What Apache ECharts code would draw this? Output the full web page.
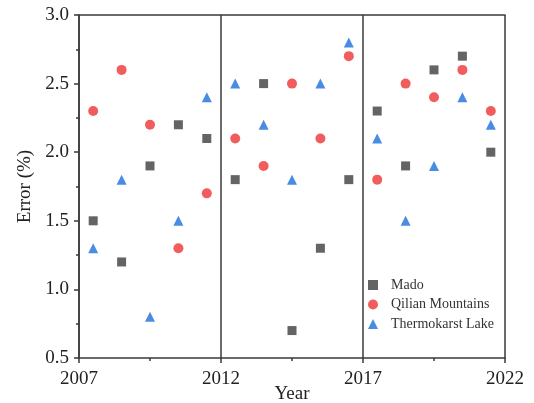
<!DOCTYPE html>
<html>
<head>
<meta charset="utf-8">
<script src="https://cdn.jsdelivr.net/npm/echarts@6/dist/echarts.min.js"></script>
<style>html,body{margin:0;padding:0;background:#fff;}#c{width:534px;height:403px;}</style>
</head>
<body>
<div id="c"></div>
<script>
const years = [2007.5, 2008.5, 2009.5, 2010.5, 2011.5, 2012.5, 2013.5, 2014.5, 2015.5, 2016.5, 2017.5, 2018.5, 2019.5, 2020.5, 2021.5];
const mado = [1.5, 1.2, 1.9, 2.2, 2.1, 1.8, 2.5, 0.7, 1.3, 1.8, 2.3, 1.9, 2.6, 2.7, 2.0];
const qilian = [2.3, 2.6, 2.2, 1.3, 1.7, 2.1, 1.9, 2.5, 2.1, 2.7, 1.8, 2.5, 2.4, 2.6, 2.3];
const thermokarst = [1.3, 1.8, 0.8, 1.5, 2.4, 2.5, 2.2, 1.8, 2.5, 2.8, 2.1, 1.5, 1.9, 2.4, 2.2];
const seriesNames = ['Mado', 'Qilian Mountains', 'Thermokarst Lake'];

const font = 'Liberation Serif';
const axisCol = '#3a3a3a';
const pair = arr => years.map((y, i) => [y, arr[i]]);

const chart = echarts.init(document.getElementById('c'));
chart.setOption({
  animation: false,
  grid: {left: 79, right: 29, top: 15, bottom: 45, containLabel: false, outerBoundsMode: 'none'},
  legend: {
    orient: 'vertical', left: 363, top: 273,
    itemWidth: 10, itemHeight: 10, itemGap: 5.5,
    textStyle: {fontFamily: font, fontSize: 14, color: '#333', padding: [0, 0, 0, 8]},
    data: seriesNames
  },
  xAxis: [{
    type: 'value', min: 2007, max: 2022, interval: 5,
    name: 'Year', nameLocation: 'middle', nameGap: 27, nameMoveOverlap: false,
    nameTextStyle: {fontFamily: font, fontSize: 19, color: '#222'},
    axisLine: {show: true, lineStyle: {color: axisCol, width: 1.5}},
    axisTick: {show: true, length: 5, lineStyle: {color: axisCol, width: 1.5}},
    minorTick: {show: true, splitNumber: 2, length: 3, lineStyle: {color: axisCol, width: 1.5}},
    axisLabel: {fontFamily: font, fontSize: 19, color: '#222', margin: 12, formatter: v => String(v)},
    splitLine: {show: true, lineStyle: {color: axisCol, width: 1.5}}
  }, {
    type: 'value', position: 'top', min: 2007, max: 2022,
    axisLine: {show: true, lineStyle: {color: axisCol, width: 1.5}},
    axisTick: {show: false}, axisLabel: {show: false}, splitLine: {show: false}
  }],
  yAxis: {
    type: 'value', min: 0.5, max: 3.0, interval: 0.5,
    name: 'Error (%)', nameLocation: 'middle', nameGap: 44,
    nameTextStyle: {fontFamily: font, fontSize: 19, color: '#222'},
    axisLine: {show: true, lineStyle: {color: axisCol, width: 1.5}},
    axisTick: {show: true, length: 5, lineStyle: {color: axisCol, width: 1.5}},
    minorTick: {show: true, splitNumber: 2, length: 3, lineStyle: {color: axisCol, width: 1.5}},
    axisLabel: {fontFamily: font, fontSize: 19, color: '#222', margin: 10, formatter: v => v.toFixed(1)},
    splitLine: {show: false}
  },
  series: [
    {name: seriesNames[0], type: 'scatter', symbol: 'rect', symbolSize: 9, itemStyle: {color: '#3d3d3d'}, data: pair(mado)},
    {name: seriesNames[1], type: 'scatter', symbol: 'circle', symbolSize: 10, itemStyle: {color: '#ee3535'}, data: pair(qilian)},
    {name: seriesNames[2], type: 'scatter', symbol: 'triangle', symbolSize: 10, itemStyle: {color: '#1b6fdc'}, data: pair(thermokarst)}
  ]
});
</script>
</body>
</html>
